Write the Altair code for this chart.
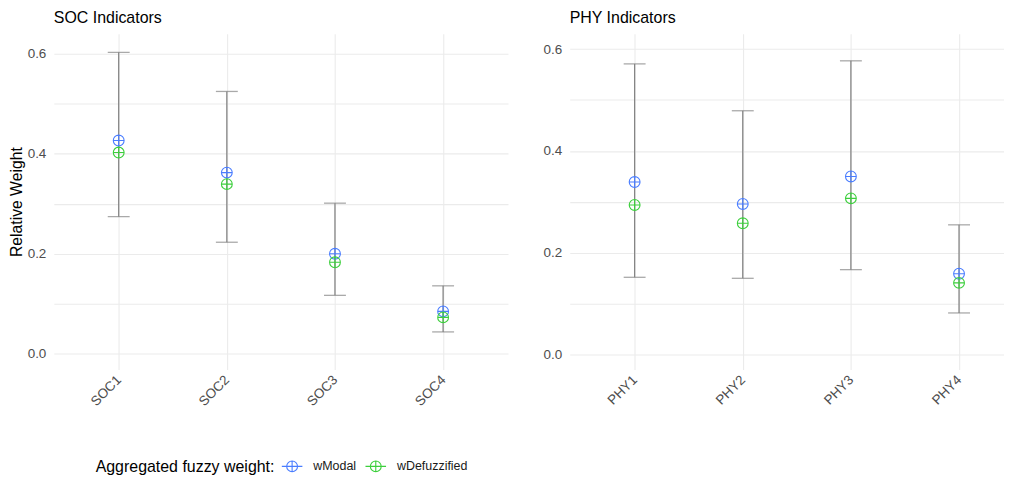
import json
import altair as alt
import pandas as pd

# ---- data ----
soc_labels = ["SOC1", "SOC2", "SOC3", "SOC4"]
soc_lower = [0.274, 0.223, 0.117, 0.044]
soc_upper = [0.602, 0.524, 0.301, 0.136]
soc_modal = [0.426, 0.362, 0.200, 0.085]
soc_defuzz = [0.402, 0.339, 0.183, 0.073]

phy_labels = ["PHY1", "PHY2", "PHY3", "PHY4"]
phy_lower = [0.152, 0.150, 0.167, 0.082]
phy_upper = [0.571, 0.479, 0.577, 0.255]
phy_modal = [0.339, 0.296, 0.350, 0.159]
phy_defuzz = [0.294, 0.258, 0.307, 0.141]

series_names = ["wModal", "wDefuzzified"]
series_colors = ["#4a7dff", "#3ccf3c"]
grid_values = [0.0, 0.1, 0.2, 0.3, 0.4, 0.5, 0.6]

FONT = "Liberation Sans"
STEP = 456 / 4.2  # px per category

# circle with cross (ggplot shape 10)
OPLUS = ("M1,0 C1,0.5523 0.5523,1 0,1 C-0.5523,1 -1,0.5523 -1,0 "
         "C-1,-0.5523 -0.5523,-1 0,-1 C0.5523,-1 1,-0.5523 1,0 "
         "M-1,0 L1,0 M0,-1 L0,1")
OPLUS_KEY = ("M1,0 C1,0.5523 0.5523,1 0,1 C-0.5523,1 -1,0.5523 -1,0 "
             "C-1,-0.5523 -0.5523,-1 0,-1 C0.5523,-1 1,-0.5523 1,0 "
             "M-1.9,0 L1.9,0 M0,-1 L0,1")


def panel(labels, lower, upper, modal, defuzz, title, width, xmax, ydom, ytitle):
    idx = list(range(1, len(labels) + 1))
    bars = pd.DataFrame({"idx": idx, "label": labels, "lower": lower, "upper": upper})
    pts = pd.DataFrame({
        "idx": idx * 2,
        "label": labels * 2,
        "series": [series_names[0]] * len(labels) + [series_names[1]] * len(labels),
        "value": list(modal) + list(defuzz),
    })
    label_expr = json.dumps(labels) + "[datum.value - 1]"
    xenc = alt.X(
        "idx:Q",
        scale=alt.Scale(domain=[0.4, xmax], nice=False, zero=False),
        axis=alt.Axis(values=idx, labelExpr=label_expr, grid=True, ticks=False,
                      domain=False, labelAngle=-45, labelAlign="right",
                      labelBaseline="middle", labelPadding=8, labelFontSize=13.5,
                      labelColor="#4d4d4d", labelFont=FONT,
                      gridColor="#ebebeb", gridWidth=1.1),
        title=None,
    )
    yaxis = alt.Axis(
        values=grid_values,
        labelExpr="round(datum.value * 10) % 2 == 0 ? format(datum.value, '.1f') : ''",
        grid=True, ticks=False, domain=False, labelPadding=8,
        labelFontSize=13.5, labelColor="#4d4d4d", labelFont=FONT,
        gridColor="#ebebeb", gridWidth=1.1,
        titleFontSize=15.8, titleFontWeight="normal", titleColor="black",
        titleFont=FONT, titlePadding=3,
    )
    yscale = alt.Scale(domain=ydom, nice=False, zero=False)
    base_b = alt.Chart(bars)
    rule = base_b.mark_rule(color="#858585", strokeWidth=1.3).encode(
        x=xenc,
        y=alt.Y("lower:Q", scale=yscale, axis=yaxis, title=ytitle),
        y2="upper:Q",
    )
    cap_lo = base_b.mark_tick(color="#858585", thickness=1.3, size=22,
                              orient="horizontal").encode(
        x="idx:Q", y="lower:Q")
    cap_hi = base_b.mark_tick(color="#858585", thickness=1.3, size=22,
                              orient="horizontal").encode(
        x="idx:Q", y="upper:Q")
    points = alt.Chart(pts).mark_point(shape=OPLUS, size=118, filled=False,
                                       strokeWidth=1.1, opacity=1).encode(
        x="idx:Q",
        y="value:Q",
        color=alt.Color(
            "series:N",
            scale=alt.Scale(domain=series_names, range=series_colors),
            sort=series_names,
            legend=alt.Legend(
                title="Aggregated fuzzy weight:", orient="none",
                legendX=42, legendY=428, direction="horizontal",
                titleOrient="left", titleFontSize=16, titleFontWeight="normal",
                titleColor="black", titleFont=FONT, titlePadding=11,
                labelFontSize=12.5, labelColor="#1a1a1a", labelFont=FONT,
                symbolType=OPLUS_KEY, symbolSize=118, symbolStrokeWidth=1.1,
                labelOffset=15, columnPadding=6,
            ),
        ),
    )
    return alt.layer(rule, cap_lo, cap_hi, points).properties(
        width=width, height=337,
        title=alt.TitleParams(title, anchor="start", frame="group", fontSize=16,
                              fontWeight="normal", color="black", font=FONT,
                              offset=8),
    )


soc = panel(soc_labels, soc_lower, soc_upper, soc_modal, soc_defuzz,
            "SOC Indicators", 456, 4.6, [-0.031, 0.639], "Relative Weight")
phy = panel(phy_labels, phy_lower, phy_upper, phy_modal, phy_defuzz,
            "PHY Indicators", 436, 0.4 + 436 / STEP, [-0.029, 0.630], None)

chart = alt.hconcat(soc, phy, spacing=35).properties(
    padding={"left": 0, "top": 1, "right": 0, "bottom": 0},
    background="white",
).configure_view(stroke=None)

chart.save("out.html", embed_options={"renderer": "svg", "actions": False})
